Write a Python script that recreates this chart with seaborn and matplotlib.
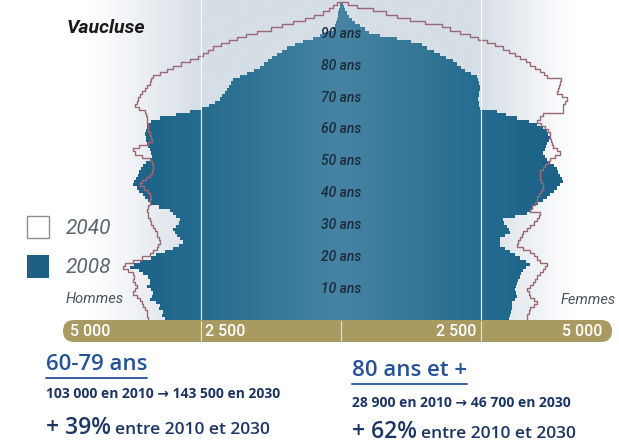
import numpy as np
import pandas as pd
import matplotlib
matplotlib.use("Agg")
import matplotlib.pyplot as plt
import seaborn as sns
from matplotlib.patches import FancyBboxPatch, Rectangle
from matplotlib.path import Path
from matplotlib.colors import LinearSegmentedColormap

# ---------------- data (population by single year of age 0..99) ----------------
ages = list(range(100))
hommes_2008 = [3150, 3200, 3180, 3250, 3230, 3300, 3410, 3380, 3360, 3400,
               3460, 3420, 3410, 3450, 3540, 3600, 3770, 3700, 3590, 3400,
               3300, 3150, 3000, 2900, 2820, 2870, 2930, 2960, 3000, 2950,
               2900, 2880, 2950, 3000, 3050, 3250, 3410, 3450, 3500, 3540,
               3600, 3650, 3710, 3690, 3660, 3630, 3600, 3570, 3540, 3480,
               3420, 3380, 3400, 3420, 3450, 3460, 3480, 3490, 3500, 3480,
               3470, 3460, 3400, 3230, 2950, 2700, 2480, 2350, 2250, 2160,
               2120, 2080, 2040, 2000, 1960, 1930, 1800, 1680, 1550, 1450,
               1380, 1300, 1230, 1150, 1050, 960, 830, 680, 500, 380,
               250, 140, 110, 90, 70, 55, 45, 35, 25, 15]
femmes_2008 = [3000, 3020, 3040, 3050, 3050, 3050, 3100, 3140, 3120, 3110,
               3120, 3140, 3170, 3200, 3220, 3250, 3300, 3380, 3300, 3200,
               3100, 3020, 2930, 2840, 2840, 2840, 2930, 3020, 3000, 2960,
               2920, 2890, 3100, 3320, 3380, 3430, 3520, 3610, 3680, 3730,
               3800, 3860, 3910, 3960, 3940, 3910, 3880, 3860, 3800, 3730,
               3680, 3640, 3610, 3640, 3660, 3680, 3710, 3730, 3700, 3680,
               3600, 3500, 3350, 3140, 2950, 2790, 2480, 2470, 2460, 2450,
               2460, 2470, 2480, 2480, 2470, 2450, 2430, 2330, 2220, 2150,
               2080, 2000, 1880, 1770, 1660, 1540, 1450, 1250, 1000, 700,
               500, 430, 340, 250, 190, 150, 110, 80, 60, 40]
hommes_2040 = [3450, 3460, 3460, 3500, 3540, 3560, 3590, 3650, 3710, 3680,
               3640, 3680, 3710, 3700, 3710, 3800, 3890, 3850, 3710, 3550,
               3420, 3350, 3290, 3260, 3230, 3250, 3280, 3290, 3330, 3360,
               3400, 3420, 3440, 3450, 3460, 3440, 3420, 3410, 3400, 3410,
               3450, 3520, 3590, 3550, 3480, 3420, 3380, 3360, 3360, 3380,
               3420, 3550, 3680, 3710, 3600, 3450, 3380, 3400, 3420, 3440,
               3450, 3450, 3460, 3470, 3490, 3500, 3600, 3680, 3650, 3620,
               3590, 3550, 3500, 3460, 3420, 3390, 3360, 3230, 3110, 3000,
               2850, 2700, 2550, 2460, 2380, 2290, 2150, 2000, 1860, 1700,
               1500, 1250, 1050, 860, 650, 480, 320, 220, 140, 80]
femmes_2040 = [3320, 3320, 3350, 3380, 3450, 3500, 3450, 3380, 3350, 3320,
               3380, 3430, 3460, 3500, 3550, 3610, 3640, 3680, 3550, 3500,
               3450, 3380, 3250, 3140, 3170, 3200, 3230, 3250, 3320, 3380,
               3450, 3500, 3530, 3550, 3380, 3420, 3460, 3500, 3500, 3530,
               3580, 3610, 3600, 3580, 3560, 3550, 3550, 3600, 3650, 3700,
               3730, 3820, 3910, 3850, 3790, 3770, 3750, 3740, 3730, 3700,
               3650, 3580, 3500, 3550, 3610, 3960, 3960, 3960, 4000, 4040,
               3950, 3860, 3880, 3900, 3910, 3930, 3680, 3620, 3550, 3460,
               3380, 3300, 3200, 3100, 3000, 2890, 2750, 2610, 2450, 2300,
               2130, 1950, 1800, 1500, 1230, 1000, 800, 570, 290, 120]

age_tick_values = [10, 20, 30, 40, 50, 60, 70, 80, 90]
age_tick_labels = ["10 ans", "20 ans", "30 ans", "40 ans", "50 ans",
                   "60 ans", "70 ans", "80 ans", "90 ans"]
scale_values = [-5000, -2500, 2500, 5000]
scale_labels = ["5 000", "2 500", "2 500", "5 000"]
legend_labels = ["2040", "2008"]

# ---------------- style ----------------
sns.set_theme(style="white")
plt.rcParams['font.family'] = ['DejaVu Sans']

NARROW = ['Roboto', 'DejaVu Sans']
BODY = ['Open Sans', 'DejaVu Sans']
W, H = 619, 444

fig = plt.figure(figsize=(W / 100, H / 100), dpi=100)
fig.patch.set_facecolor('white')

# chart axes: occupies top 320 px, full width
ax = fig.add_axes([0, 1 - 320 / H, 1, 320 / H])
X0, X1 = -6090, 4965
Y0, Y1 = -0.5, 100.1

# background gradient
bg_cmap = LinearSegmentedColormap.from_list(
    'bg', [(0, '#ffffff'), (90 / W, '#ffffff'), (200 / W, '#d6dee6'),
           (480 / W, '#d6dee6'), (575 / W, '#ffffff'), (1, '#ffffff')])
ax.imshow(np.linspace(0, 1, 400).reshape(1, -1), cmap=bg_cmap,
          extent=[X0, X1, Y0, Y1], aspect='auto', zorder=0,
          interpolation='bilinear')

# 2008 pyramid bars
df = pd.DataFrame({'age': ages,
                   'hommes': -np.array(hommes_2008),
                   'femmes': np.array(femmes_2008)})
sns.barplot(data=df, x='hommes', y='age', orient='h', native_scale=True,
            width=1, color='#266a8c', linewidth=0, errorbar=None, ax=ax,
            zorder=1)
sns.barplot(data=df, x='femmes', y='age', orient='h', native_scale=True,
            width=1, color='#266a8c', linewidth=0, errorbar=None, ax=ax,
            zorder=1)
bars = list(ax.patches)
for b in bars:
    b.set_antialiased(False)
clip = Path.make_compound_path(
    *[b.get_path().transformed(b.get_patch_transform()) for b in bars])

# gradient fill clipped to the bars
dark_cmap = LinearSegmentedColormap.from_list(
    'dark', [(0, '#4784a3'), (0.35, '#347695'), (0.65, '#236b8f'),
             (1, '#1c6186')])
xs = np.linspace(X0, X1, 600)
grad = np.clip(np.abs(xs) / 4000, 0, 1).reshape(1, -1)
im = ax.imshow(grad, cmap=dark_cmap, vmin=0, vmax=1,
               extent=[X0, X1, Y0, Y1], aspect='auto', zorder=2,
               interpolation='bilinear')
im.set_clip_path(clip, ax.transData)

# 2040 outline (staircase, men up then women down, joined at top)
a = np.array(ages, dtype=float)
men_x = np.repeat(-np.array(hommes_2040, dtype=float), 2)
men_y = np.column_stack([a - 0.5, a + 0.5]).ravel()
wom_x = np.repeat(np.array(femmes_2040, dtype=float)[::-1], 2)
wom_y = np.column_stack([a[::-1] + 0.5, a[::-1] - 0.5]).ravel()
line_df = pd.DataFrame({'x': np.concatenate([men_x, wom_x]),
                        'y': np.concatenate([men_y, wom_y])})
sns.lineplot(data=line_df, x='x', y='y', sort=False, estimator=None,
             color='#9c6874', linewidth=1.0, ax=ax, zorder=4)

# white guide lines at +-2500
for v in (-2500, 2500):
    ax.axvline(v, color='white', lw=0.9, alpha=0.85, zorder=5)

# age labels
for v, lab in zip(age_tick_values, age_tick_labels):
    ax.text(0, v - 0.6, lab, ha='center', va='center', fontsize=10,
            style='italic', weight='medium', family=NARROW,
            fontstretch='condensed', color='#1c2c3a', zorder=6)

ax.set_xlim(X0, X1)
ax.set_ylim(Y0, Y1)
ax.axis('off')

# ---------------- overlay axes in pixel coordinates ----------------
ov = fig.add_axes([0, 0, 1, 1])
ov.set_xlim(0, W)
ov.set_ylim(H, 0)
ov.axis('off')

# title
ov.text(67, 28, "Vaucluse", fontsize=14, weight='bold', style='italic',
        family=NARROW, fontstretch='condensed', color='#1a1a1a',
        va='center', ha='left')

# legend
ov.add_patch(Rectangle((27, 216), 22, 22, facecolor='white',
                       edgecolor='#8a8f94', lw=1.0))
ov.add_patch(Rectangle((27, 255), 22, 23, facecolor='#1f5f86',
                       edgecolor='none'))
ov.text(66, 228, legend_labels[0], fontsize=15, style='italic',
        family=NARROW, fontstretch='condensed', color='#5a6670',
        va='center', ha='left')
ov.text(66, 267, legend_labels[1], fontsize=15, style='italic',
        family=NARROW, fontstretch='condensed', color='#5a6670',
        va='center', ha='left')
ov.text(66, 299, "Hommes", fontsize=10.5, style='italic', family=NARROW,
        fontstretch='condensed', color='#4a5560', va='center', ha='left')
ov.text(616, 300, "Femmes", fontsize=10.5, style='italic', family=NARROW,
        fontstretch='condensed', color='#4a5560', va='center', ha='right')

# gold scale bar
ov.add_patch(FancyBboxPatch((63, 320), 549, 22,
                            boxstyle="round,pad=0,rounding_size=11",
                            facecolor='#a99a62', edgecolor='none'))
for v in (-2500, 0, 2500):
    px = 341 + v / 17.86
    ov.plot([px, px], [321, 341], color='#e9e3cc', lw=0.8)
scale_pos = [90, 225, 456, 582]
for px, lab in zip(scale_pos, scale_labels):
    ov.text(px, 331.5, lab, fontsize=11.5, family=NARROW, weight='medium',
            fontstretch='condensed', color='white', ha='center',
            va='center')

# bottom statistics
TITLE_C = '#24529a'
TXT_C = '#1d3563'
fig.canvas.draw()
rend = fig.canvas.get_renderer()


def underline(t, offset=3):
    bb = t.get_window_extent(renderer=rend)
    y = H - bb.y0 + offset
    ov.plot([bb.x0, bb.x1], [y, y], color=TITLE_C, lw=1.3)


def two_part(x, y, big, small):
    t1 = ov.text(x, y, big, fontsize=16.5, family=BODY, weight='semibold',
                 color=TXT_C, ha='left', va='baseline')
    bb = t1.get_window_extent(renderer=rend)
    ov.text(bb.x1 + 4, y, small, fontsize=12.5, family=BODY,
            weight='semibold', color=TXT_C, ha='left', va='baseline')


t = ov.text(46, 370, "60-79 ans", fontsize=16, family=BODY, weight='semibold',
            color=TITLE_C, ha='left', va='baseline')
underline(t)
ov.text(46, 398, "103 000 en 2010 \u2192 143 500 en 2030", fontsize=10,
        family=BODY, weight='bold', color=TXT_C, ha='left', va='baseline')
two_part(46, 434, "+ 39%", "entre 2010 et 2030")

t = ov.text(352, 376, "80 ans et +", fontsize=16, family=BODY,
            weight='semibold', color=TITLE_C, ha='left', va='baseline')
underline(t)
ov.text(352, 407, "28 900 en 2010 \u2192 46 700 en 2030", fontsize=10,
        family=BODY, weight='bold', color=TXT_C, ha='left', va='baseline')
two_part(352, 438, "+ 62%", "entre 2010 et 2030")

fig.savefig("out.png", dpi=100, facecolor='white')
